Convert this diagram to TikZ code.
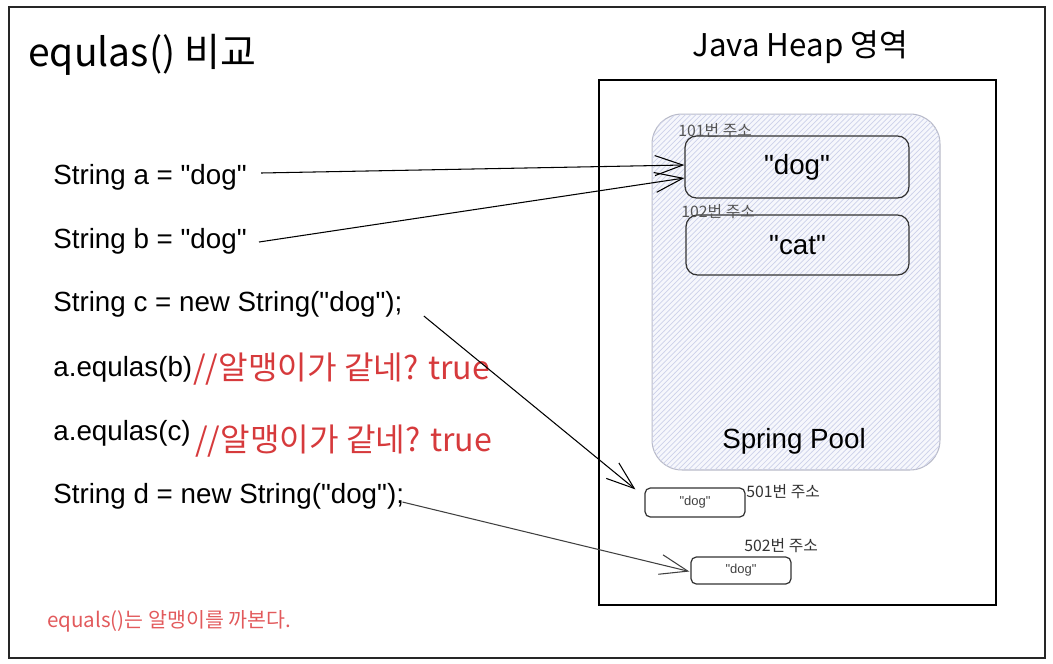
\documentclass[tikz,border=0pt]{standalone}
\usepackage{fontspec}
\setmainfont{Liberation Sans}
\newfontfamily\kr{Noto Sans CJK KR}
\usetikzlibrary{arrows.meta, calc, patterns}

\definecolor{memo}{HTML}{D63A3C}
\definecolor{note}{HTML}{E25A5C}
\definecolor{addr}{HTML}{555555}
\definecolor{poolline}{HTML}{B8BAC8}
\definecolor{poolhatch}{HTML}{CDD1EA}
\definecolor{poolfill}{HTML}{F6F7FC}

\newcommand{\qd}{\textquotedbl}

\begin{document}
\begin{tikzpicture}[x=0.02cm,y=-0.02cm]
        \tikzset{
            code/.style={anchor=west, inner sep=0pt, font=\fontsize{15.8}{19}\selectfont},
            memo/.style={anchor=west, inner sep=0pt, text=memo, font=\kr\fontsize{18.3}{21}\selectfont},
            addr/.style={anchor=west, inner sep=0pt, font=\kr\fontsize{9}{11}\selectfont},
            strbox/.style={draw=black!80, line width=0.7pt, rounded corners=6.5pt, inner sep=0pt},
            minibox/.style={draw=black!80, line width=0.7pt, rounded corners=3pt, inner sep=0pt,
                minimum width=2cm, text=black!75, font=\fontsize{7.4}{9}\selectfont},
            ref/.style={-{Straight Barb[length=5.6mm,width=4mm]}, line width=0.6pt}
        }
        \useasboundingbox (0,0) rectangle (1053,663);

        % outer frame
        \draw[line width=0.85pt, black!85] (9,7) rectangle (1045,658);

        % titles
        \node[anchor=west, inner sep=0pt, font=\kr\fontsize{22.2}{25}\selectfont] (title) at (28,55) {equlas() 비교};
        \node[anchor=west, inner sep=0pt, font=\kr\fontsize{17.8}{20}\selectfont] (heaptitle) at (692,47) {Java Heap 영역};

        % heap and pool
        \node[draw, line width=0.75pt, minimum width=7.94cm, minimum height=10.5cm] (heap) at (797.5,342.5) {};
        \node[draw=poolline, line width=0.6pt, rounded corners=17pt, fill=poolfill,
            postaction={pattern=north east lines, pattern color=poolhatch},
            minimum width=5.76cm, minimum height=7.12cm] (pool) at (796,292) {};
        \node[font=\fontsize{15.8}{19}\selectfont, inner sep=0pt] (poolname) at (794,441) {Spring Pool};

        \node[strbox, minimum width=4.48cm, minimum height=1.24cm, font=\fontsize{15.8}{19}\selectfont] (dog) at (797,167) {\qd dog\qd};
        \node[strbox, minimum width=4.46cm, minimum height=1.2cm, font=\fontsize{15.8}{19}\selectfont] (cat) at (797.5,245) {\qd cat\qd};
        \node[addr, text=addr] (a101) at (678,131) {101번 주소};
        \node[addr, text=addr] (a102) at (681,212) {102번 주소};

        \node[minibox, minimum height=0.58cm] (d501) at (695,502.5) {\qd dog\qd};
        \node[minibox, minimum height=0.54cm] (d502) at (741,570.5) {\qd dog\qd};
        \node[addr, text=black!80] (a501) at (746,492) {501번 주소};
        \node[addr, text=black!80] (a502) at (744,546) {502번 주소};

        % code lines
        \node[code] (sa) at (53,177) {String a = \qd dog\qd};
        \node[code] (sb) at (53,241) {String b = \qd dog\qd};
        \node[code] (sc) at (53,304) {String c = new String(\qd dog\qd);};
        \node[code] (eqb) at (53,369) {a.equlas(b)};
        \node[code] (eqc) at (53,433) {a.equlas(c)};
        \node[code] (sd) at (53,496) {String d = new String(\qd dog\qd);};

        \node[memo] (memob) at (193,369) {//알맹이가 같네? true};
        \node[memo] (memoc) at (195,441) {//알맹이가 같네? true};

        \node[anchor=west, inner sep=0pt, text=note, font=\kr\fontsize{11.7}{14}\selectfont] (note) at (47,621) {equals()는 알맹이를 까본다.};

        % references
        \draw[ref] ($(sa.east)+(14,-4)$) -- ($(dog.west)+(0,-2)$);
        \draw[ref] ($(sb.east)+(12,1)$) -- ($(dog.west)+(0,11)$);
        \draw[ref] ($(sc.east)+(21,12)$) -- ($(d501.north west)+(-9,2)$);
        \draw[ref, black!75] ($(sd.east)+(-2,6)$) -- ($(d502.west)+(-1,1)$);
    \end{tikzpicture}
\end{document}
